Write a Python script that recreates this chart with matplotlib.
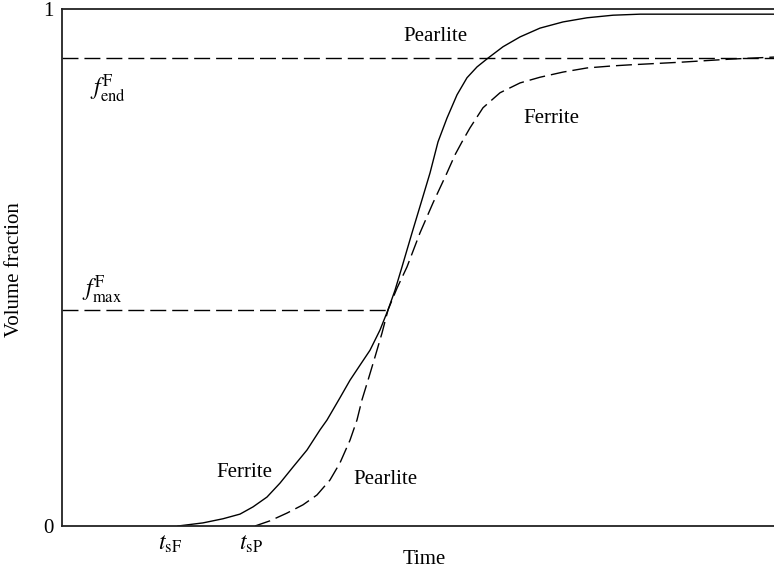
import numpy as np
import matplotlib.pyplot as plt

plt.rcParams["font.family"] = ["Liberation Serif", "DejaVu Serif"]
plt.rcParams["mathtext.fontset"] = "stix"

# time in arbitrary units (0..100), volume fraction 0..1
t_ferrite = [16.29, 19.80, 22.61, 25.00, 26.83, 28.79, 30.62, 32.44, 34.41, 36.24, 37.22,
             39.04, 40.45, 41.85, 43.26, 44.66, 45.79, 46.77, 47.75, 49.16, 50.56, 51.69,
             52.81, 54.07, 55.48, 56.88, 58.29, 59.83, 61.94, 64.33, 67.13, 70.37, 73.74,
             77.39, 81.18, 100.0]
f_ferrite = [0.0, 0.006, 0.014, 0.023, 0.037, 0.056, 0.083, 0.114, 0.147, 0.186, 0.205,
             0.248, 0.282, 0.311, 0.340, 0.379, 0.418, 0.456, 0.501, 0.567, 0.631, 0.683,
             0.743, 0.789, 0.834, 0.867, 0.888, 0.905, 0.927, 0.946, 0.963, 0.975, 0.983,
             0.988, 0.990, 0.990]

t_pearlite = [27.11, 29.21, 31.60, 33.85, 35.81, 37.64, 39.04, 40.45, 41.43, 42.13, 42.98,
              43.96, 44.94, 45.79, 47.05, 48.45, 50.28, 52.11, 54.07, 55.20, 56.18, 57.30,
              59.13, 61.52, 64.33, 67.13, 70.37, 73.74, 77.39, 79.78, 86.80, 93.82, 100.0]
f_pearlite = [0.0, 0.010, 0.025, 0.041, 0.060, 0.089, 0.122, 0.166, 0.205, 0.244, 0.282,
              0.327, 0.373, 0.418, 0.460, 0.501, 0.567, 0.625, 0.683, 0.718, 0.743, 0.770,
              0.809, 0.838, 0.857, 0.868, 0.878, 0.886, 0.890, 0.892, 0.897, 0.903, 0.907]

f_end = 0.905
f_max = 0.418
t_cross = 45.79
t_sF = 16.29
t_sP = 27.11

fig = plt.figure(figsize=(7.74, 5.74), dpi=100)
ax = fig.add_axes([62/774, 48/574, 712/774, 517/574])

dash = (0, (11.5, 4.3))
ax.plot(t_ferrite, f_ferrite, "-", color="black", lw=1.0, solid_joinstyle="round")
ax.plot(t_pearlite, f_pearlite, linestyle=dash, color="black", lw=1.0, dash_joinstyle="round")
ax.plot([0, 100], [f_end, f_end], linestyle=dash, color="black", lw=1.0)
ax.plot([0, t_cross], [f_max, f_max], linestyle=dash, color="black", lw=1.0)

ax.set_xlim(0, 100)
ax.set_ylim(0, 1)
ax.spines["right"].set_visible(False)
for s in ["left", "top", "bottom"]:
    ax.spines[s].set_linewidth(1.3)
    ax.spines[s].set_color("#222222")

ax.set_xticks([])
ax.set_yticks([0, 1])
ax.set_yticklabels(["0", "1"])
ax.tick_params(axis="y", length=0, pad=6, labelsize=15)

fig.text(424/774, 1 - 560/574, "Time", fontsize=15, ha="center", va="center")
fig.text(15/774, 1 - 270/574, "Volume fraction", fontsize=15, ha="center", va="center",
         rotation=90)

fs = 15
ax.text(25.6, 0.104, "Ferrite", fontsize=fs, ha="center", va="center")
ax.text(45.4, 0.089, "Pearlite", fontsize=fs, ha="center", va="center")
ax.text(52.4, 0.946, "Pearlite", fontsize=fs, ha="center", va="center")
ax.text(68.7, 0.789, "Ferrite", fontsize=fs, ha="center", va="center")

ax.text(3.9, 0.845, r"$f_{\mathrm{end}}^{\mathrm{F}}$", fontsize=17, ha="left", va="center")
ax.text(2.8, 0.457, r"$f_{\mathrm{max}}^{\mathrm{F}}$", fontsize=17, ha="left", va="center")
ax.text(t_sF - 2.8, -0.035, r"$t_{\mathrm{sF}}$", fontsize=17, ha="left", va="center",
        clip_on=False)
ax.text(t_sP - 2.3, -0.035, r"$t_{\mathrm{sP}}$", fontsize=17, ha="left", va="center",
        clip_on=False)

plt.savefig("out.png", dpi=100)
